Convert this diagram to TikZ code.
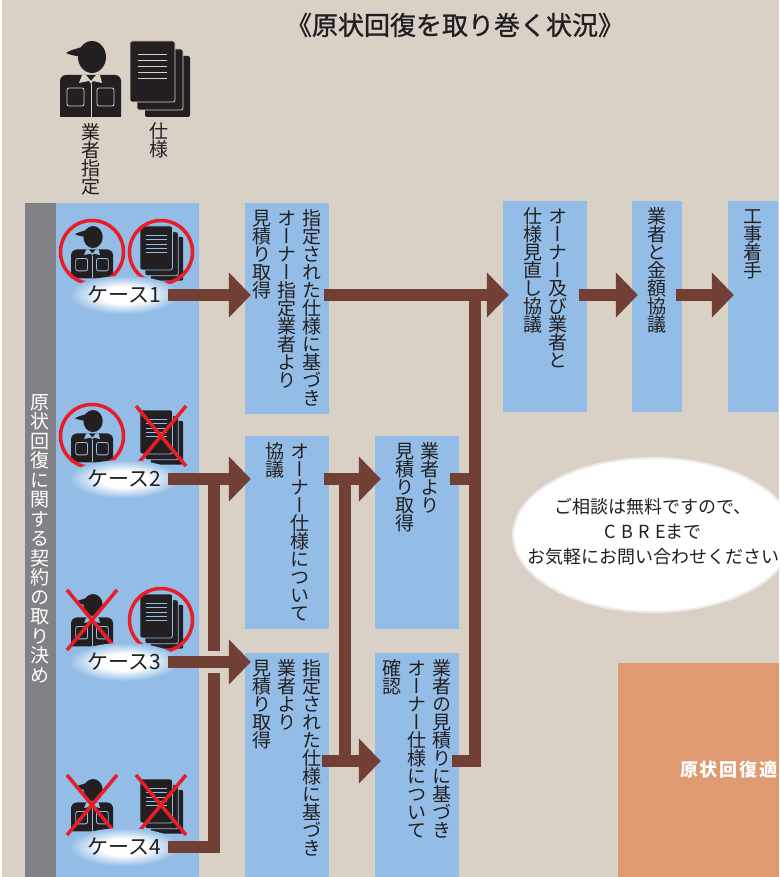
\documentclass[tikz,border=0pt]{standalone}
\usepackage{fontspec}
\setmainfont{Noto Sans CJK JP}
\newfontfamily\tatefont[RawFeature=+vert]{Noto Sans CJK JP}
\newfontfamily\titlefont[FakeBold=1]{Noto Sans CJK JP}
\usetikzlibrary{arrows.meta, positioning, shapes.geometric, calc}
\definecolor{bgBeige}{HTML}{D9D1C6}
\definecolor{bandBlue}{HTML}{93BDE6}
\definecolor{bandGray}{HTML}{808285}
\definecolor{flowBrown}{HTML}{723F35}
\definecolor{markRed}{HTML}{E91D25}
\definecolor{panelOrange}{HTML}{E09A72}
\definecolor{textDark}{HTML}{231F20}

\pgfdeclareradialshading{caseglow}{\pgfpoint{0bp}{0bp}}{
  color(0bp)=(white); color(11bp)=(white); color(25bp)=(bandBlue); color(50bp)=(bandBlue)}

% one vertical column of text, top to bottom
\makeatletter
\newcommand{\tatecol}[2][18pt]{\vtop{\baselineskip=#1\lineskiplimit=-\maxdimen
  \@tfor\tatech:=#2\do{\hbox to 18pt{\hss\rule{0pt}{15.8pt}\tatech\hss}}}}
\makeatother
\newcommand{\tategap}{\hskip7pt}

\tikzset{
  worker/.pic={
    \fill[textDark] (0,76) [rounded corners=6pt] -- (0,34) -- (61,34) [sharp corners] -- (61,76) -- cycle;
    \fill[textDark] (32,16) ellipse [x radius=14, y radius=16];
    \fill[textDark] (6,12) .. controls (10,9) and (16,8) .. (22,6) -- (22,16) .. controls (16,15) and (10,14) .. (6,12) -- cycle;
    \fill[#1] (19,42) -- (22,34) -- (26,34) -- (31,40) -- (36,34) -- (40,34) -- (42,42) -- (33,40) -- (31,43) -- (29,40) -- cycle;
    \draw[#1, line width=0.8pt] (31,43) -- (31,76);
    \draw[#1, line width=0.8pt, rounded corners=2pt] (7,47) -- (7,65) -- (24,65) -- (24,47) -- cycle;
    \draw[#1, line width=0.8pt, rounded corners=2pt] (37,47) -- (37,65) -- (54,65) -- (54,47) -- cycle;
  },
  docs/.pic={
    \fill[textDark, rounded corners=2pt] (15,15) rectangle (60,76);
    \filldraw[textDark, draw=#1, line width=0.8pt, rounded corners=2pt] (7,8) rectangle (53,69);
    \filldraw[textDark, draw=#1, line width=0.8pt, rounded corners=2pt] (0,0) rectangle (45,61);
    \draw[#1, line width=0.8pt] (8,13) -- (37,13) (8,19) -- (37,19) (8,25) -- (37,25) (8,31) -- (37,31) (8,37) -- (37,37);
  },
  ngmark/.pic={
    \draw[markRed, line width=3.5pt] (-25,-30) -- (25,30) (-25,30) -- (25,-30);
  },
}

\begin{document}
\begin{tikzpicture}[
    x=1pt, y=-1pt,
    stepbox/.style={rectangle, fill=bandBlue, inner sep=0pt},
    wide/.style={stepbox, minimum width=84pt},
    narrow/.style={stepbox, minimum width=50pt},
    tatetext/.style={anchor=north, inner sep=0pt, yshift=-7pt, text=textDark,
                     font=\fontsize{19}{18}\tatefont},
    okmark/.style={circle, draw=markRed, line width=3.5pt, minimum size=63pt, inner sep=0pt},
    caselabel/.style={ellipse, shading=caseglow, minimum width=110pt, minimum height=38pt, inner sep=0pt,
                      font=\fontsize{21}{21}\selectfont, text=textDark},
    flowline/.style={draw=flowBrown, line width=12pt},
    flow/.style={flowline, shorten >=-6pt, -{Triangle[length=22pt, width=44pt]}},
  ]
    \useasboundingbox (0,0) rectangle (779,877);
    \clip (0,0) rectangle (779,877);
    \fill[bgBeige] (2,0) rectangle (779,877);

    \node[text=textDark, font=\fontsize{26}{26}\titlefont] (title) at (455,25) {《原状回復を取り巻く状況》};

    % legend
    \pic at (60,41) {worker=bgBeige};
    \pic at (130,41) {docs=bgBeige};
    \node[tatetext, yshift=7pt] (legendA) at (91,123) {\tatecol{業者指定}};
    \node[tatetext, yshift=7pt] (legendB) at (159,122) {\tatecol{仕様}};

    % left bands
    \fill[bandGray] (25,203) rectangle (56,877);
    \fill[bandBlue] (56,203) rectangle (199,877);
    \node[tatetext, yshift=7pt, text=white] (bandtext) at (40,393)
      {\tatecol[19.5pt]{原状回復に関する契約の取り決め}};

    % cases
    \pic[scale=0.69] at (71,226) {worker=bandBlue};
    \pic[scale=0.72] at (140,226) {docs=bandBlue};
    \node[okmark] (ok1a) at (92,252) {};
    \node[okmark] (ok1b) at (161,252) {};
    \node[caselabel] (case1) at (124,295) {ケース1};

    \pic[scale=0.69] at (71,410) {worker=bandBlue};
    \pic[scale=0.72] at (140,410) {docs=bandBlue};
    \node[okmark] (ok2a) at (92,436) {};
    \pic at (161,436) {ngmark};
    \node[caselabel] (case2) at (124,479) {ケース2};

    \pic[scale=0.69] at (71,594) {worker=bandBlue};
    \pic[scale=0.72] at (140,594) {docs=bandBlue};
    \pic at (92,620) {ngmark};
    \node[okmark] (ok3b) at (161,620) {};
    \node[caselabel] (case3) at (124,662) {ケース3};

    \pic[scale=0.69] at (71,779) {worker=bandBlue};
    \pic[scale=0.72] at (140,779) {docs=bandBlue};
    \pic at (92,805) {ngmark};
    \pic at (161,805) {ngmark};
    \node[caselabel] (case4) at (124,847) {ケース4};

    % boxes, columns written left to right
    \node[wide, minimum height=211pt] (boxA) at (287,308.5) {};
    \node[tatetext] (boxAtext) at (boxA.north)
      {\tatecol{見積り取得}\tategap\tatecol{オーナー指定業者より}\tategap\tatecol{指定された仕様に基づき}};
    \node[wide, minimum height=193pt] (boxB) at (287,532.5) {};
    \node[tatetext] (boxBtext) at (boxB.north)
      {\tatecol{協議}\tategap\tatecol{オーナー仕様について}};
    \node[wide, minimum height=224pt] (boxC) at (287,765) {};
    \node[tatetext] (boxCtext) at (boxC.north)
      {\tatecol{見積り取得}\tategap\tatecol{業者より}\tategap\tatecol{指定された仕様に基づき}};
    \node[wide, minimum height=193pt] (boxD) at (417,532.5) {};
    \node[tatetext] (boxDtext) at (boxD.north)
      {\tatecol{見積り取得}\tategap\tatecol{業者より}};
    \node[wide, minimum height=224pt] (boxE) at (417,765) {};
    \node[tatetext] (boxEtext) at (boxE.north)
      {\tatecol{確認}\tategap\tatecol{オーナー仕様について}\tategap\tatecol{業者の見積りに基づき}};
    \node[wide, minimum height=211pt] (boxF) at (545,306.5) {};
    \node[tatetext] (boxFtext) at (boxF.north)
      {\tatecol{仕様見直し協議}\tategap\tatecol{オーナー及び業者と}};
    \node[narrow, minimum height=211pt] (boxG) at (657,306.5) {};
    \node[tatetext] (boxGtext) at (boxG.north) {\tatecol{業者と金額協議}};
    \node[narrow, minimum height=211pt] (boxH) at (753,306.5) {};
    \node[tatetext] (boxHtext) at (boxH.north) {\tatecol{工事着手}};

    % right side
    \node[ellipse, fill=white, draw=white!55!bgBeige, line width=2pt, inner sep=0pt,
          minimum width=280pt, minimum height=154pt] (bubble) at (653,535) {};
    \node[align=center, inner sep=0pt, text=textDark, font=\fontsize{18}{25}\selectfont] (bubbletext) at (653,532)
      {ご相談は無料ですので、\\{\addfontfeature{LetterSpace=30}CBRE}まで\\お気軽にお問い合わせください};
    \node[rectangle, fill=panelOrange, minimum width=161pt, minimum height=214pt, inner sep=0pt] (panel) at (698.5,770) {};
    \node[anchor=west, inner sep=0pt, text=white, font=\fontsize{18}{18}\bfseries\addfontfeature{LetterSpace=10}] (paneltext) at (680,770) {原状回復適};

    % flows
    \coordinate (rowA) at (0,295);
    \coordinate (rowB) at (0,479);
    \coordinate (rowC) at (0,662);
    \coordinate (rowD) at (0,847);
    \coordinate (rowE) at (0,761);
    \coordinate (branchA) at (214,651);
    \coordinate (branchB) at (214,673);
    \coordinate (busA) at (345,479);
    \coordinate (busB) at (345,761);
    \coordinate (busTop) at (475,295);

    \draw[flow, shorten <=-11pt] (case1.east) -- (boxA.west |- rowA);
    \draw[flowline] (branchA |- rowB) -- (branchA);
    \draw[flow, shorten <=-11pt] (case2.east) -- (boxB.west |- rowB);
    \draw[flow, shorten <=-11pt] (case3.east) -- (boxC.west |- rowC);
    \draw[flowline, shorten <=-11pt] (case4.east) -| (branchB);

    \draw[flowline] (busA) -- (busB);
    \draw[flow, shorten <=-5pt] (boxB.east |- rowB) -- (boxD.west |- rowB);
    \draw[flow, shorten <=-7pt] (boxC.east |- rowE) -- (boxE.west |- rowE);
    \draw[flowline, shorten <=-9pt] (boxD.east |- rowB) -- (busTop |- rowB);
    \draw[flowline, shorten <=-7pt] (boxE.east |- rowE) -| (busTop);

    \draw[flow, shorten <=-5pt] (boxA.east |- rowA) -- (boxF.west |- rowA);
    \draw[flow, shorten <=-8pt] (boxF.east |- rowA) -- (boxG.west |- rowA);
    \draw[flow, shorten <=-6pt] (boxG.east |- rowA) -- (boxH.west |- rowA);
\end{tikzpicture}
\end{document}
